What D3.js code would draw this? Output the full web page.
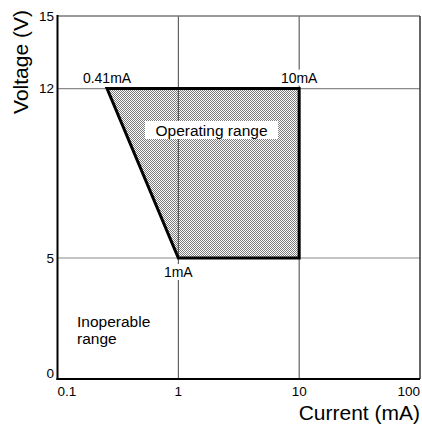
<!DOCTYPE html>
<html><head><meta charset="utf-8">
<script src="https://cdn.jsdelivr.net/npm/d3@7"></script>
<style>html,body{margin:0;padding:0;background:#fff;}svg{display:block;font-family:"Liberation Sans",Arial,sans-serif;}</style>
</head><body>
<svg id="c" width="422" height="426"></svg>
<script>
// Data
const xTicks = [0.1, 1, 10, 100];
const xTickLabels = ["0.1", "1", "10", "100"];
const yTicks = [0, 5, 12, 15];
const yTickLabels = ["0", "5", "12", "15"];
const rangeCurrent = [0.257, 10, 10, 1];   // polygon vertices (mA, as drawn)
const rangeVoltage = [12, 12, 5, 5];       // polygon vertices (V)
const pointLabels = ["0.41mA", "10mA", "1mA"];
const pointLabelX = [0.257, 10, 1];
const pointLabelY = [12, 12, 5];
const gridX = [1, 10];
const gridY = [5, 12];

const svg = d3.select("#c");
const x = d3.scaleLog().domain([0.1, 100]).range([57.5, 420]);
const y = d3.scaleLinear().domain([0, 15]).range([379, 16]);

// pattern
const defs = svg.append("defs");
const pat = defs.append("pattern").attr("id", "dots").attr("patternUnits", "userSpaceOnUse")
  .attr("width", 2).attr("height", 2);
pat.append("rect").attr("width", 2).attr("height", 2).attr("fill", "#fcfcfc");
pat.append("rect").attr("x", 0).attr("y", 0).attr("width", 1).attr("height", 1).attr("fill", "#7c7c7c");
pat.append("rect").attr("x", 1).attr("y", 1).attr("width", 1).attr("height", 1).attr("fill", "#7c7c7c");

const poly = rangeCurrent.map((c, i) => [x(c), y(rangeVoltage[i])]);

// fill
svg.append("path").attr("d", "M" + poly.join("L") + "Z").attr("fill", "url(#dots)");

// grid lines
svg.selectAll(".gy").data(gridY).enter().append("line")
  .attr("x1", x(0.1)).attr("x2", x(100)).attr("y1", d => y(d)).attr("y2", d => y(d))
  .attr("stroke", "#8a8a8a").attr("stroke-width", 1.2);
svg.selectAll(".gx").data(gridX).enter().append("line")
  .attr("y1", y(15)).attr("y2", y(0)).attr("x1", d => x(d)).attr("x2", d => x(d))
  .attr("stroke", "#444").attr("stroke-width", 1);

// frame
svg.append("line").attr("x1", x(0.1)).attr("x2", x(100)).attr("y1", y(15)).attr("y2", y(15))
  .attr("stroke", "#777").attr("stroke-width", 1.5);
svg.append("line").attr("x1", x(100)).attr("x2", x(100)).attr("y1", y(15)).attr("y2", y(0))
  .attr("stroke", "#333").attr("stroke-width", 1.5);
svg.append("line").attr("x1", x(0.1)).attr("x2", x(0.1)).attr("y1", y(15) - 1).attr("y2", y(0) + 1)
  .attr("stroke", "#000").attr("stroke-width", 2);
svg.append("line").attr("x1", x(0.1) - 1).attr("x2", x(100)).attr("y1", y(0)).attr("y2", y(0))
  .attr("stroke", "#000").attr("stroke-width", 2);

// polygon outline
svg.append("path").attr("d", "M" + poly.join("L") + "Z").attr("fill", "none")
  .attr("stroke", "#000").attr("stroke-width", 3).attr("stroke-linejoin", "miter");

// Operating range box
const bx = svg.append("g");
bx.append("rect").attr("x", 145).attr("y", 121).attr("width", 133).attr("height", 18).attr("fill", "#fff");
bx.append("text").attr("x", 211.5).attr("y", 135.5).attr("text-anchor", "middle")
  .attr("font-size", 15.5).text("Operating range");

// point labels
const off = [-6, -6, 19];
pointLabels.forEach((t, i) => {
  const tx = svg.append("text").attr("x", x(pointLabelX[i])).attr("y", y(pointLabelY[i]) + off[i])
    .attr("text-anchor", "middle").attr("font-size", 14).text(t);
  const bb = tx.node().getBBox();
  svg.insert("rect", () => tx.node()).attr("x", bb.x - 1).attr("y", bb.y).attr("width", bb.width + 2)
    .attr("height", bb.height).attr("fill", "#fff");
});

// Inoperable range
svg.append("text").attr("x", 77).attr("y", 327).attr("font-size", 15.5).text("Inoperable");
svg.append("text").attr("x", 77).attr("y", 344).attr("font-size", 15.5).text("range");

// x tick labels
svg.selectAll(".xt").data(xTicks).enter().append("text")
  .attr("x", d => x(d)).attr("y", 396)
  .attr("text-anchor", (d, i) => i === 0 ? "start" : (i === xTicks.length - 1 ? "end" : "middle"))
  .attr("font-size", 13.5).text((d, i) => xTickLabels[i]);

// y tick labels
svg.selectAll(".yt").data(yTicks).enter().append("text")
  .attr("x", 54).attr("y", (d, i) => y(d) + (i === 0 ? -1 : 4.5))
  .attr("text-anchor", "end").attr("font-size", 13.5).text((d, i) => yTickLabels[i]);

// axis titles
svg.append("text").attr("x", 420).attr("y", 419.5).attr("text-anchor", "end")
  .attr("font-size", 21).text("Current (mA)");
svg.append("text").attr("transform", "translate(28,62) rotate(-90)").attr("text-anchor", "middle")
  .attr("font-size", 21).text("Voltage (V)");
</script>
</body></html>
